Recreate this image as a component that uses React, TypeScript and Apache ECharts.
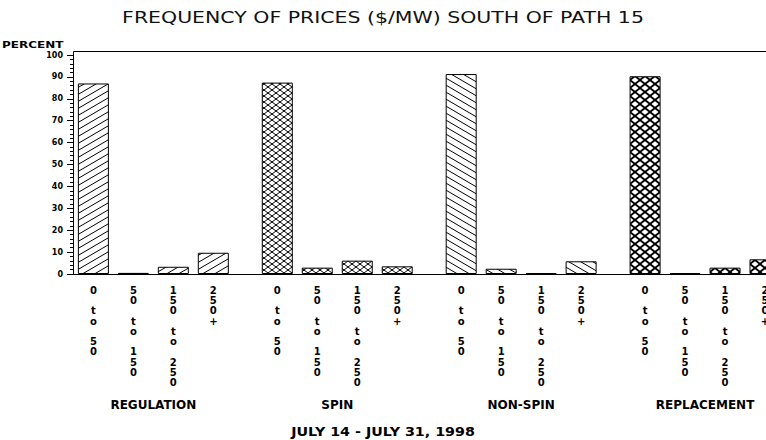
import React, { useEffect, useRef } from 'react';
import * as echarts from 'echarts';

const groups = ['REGULATION', 'SPIN', 'NON-SPIN', 'REPLACEMENT'];
const priceBins = ['0 to 50', '50 to 150', '150 to 250', '250+'];
const regulation = [87.0, 0.5, 3.3, 9.7];
const spin = [87.4, 2.9, 6.1, 3.5];
const nonSpin = [91.3, 2.4, 0.4, 5.8];
const replacement = [90.3, 0.4, 2.9, 6.7];
const yTickLabels = ['0', '10', '20', '30', '40', '50', '60', '70', '80', '90', '100'];
const titleText = 'FREQUENCY OF PRICES ($/MW) SOUTH OF PATH 15';
const subtitleText = 'JULY 14 - JULY 31, 1998';
const yAxisName = 'PERCENT';

const seriesValues = [regulation, spin, nonSpin, replacement];

const FONT = '"DejaVu Sans", sans-serif';
const GROUP_STEP = 4.6;
const xOf = (g: number, b: number) => g * GROUP_STEP + b + 0.51;
const X_MAX = xOf(3, 3) + 0.51;

function stackLabel(s: string): string {
  if (s.includes(' to ')) {
    const [a, b] = s.split(' to ');
    return [...a.split(''), '', 't', 'o', '', ...b.split('')].join('\n');
  }
  return s.split('').join('\n');
}

function makeTile(w: number, h: number, dirs: string[], lw: number): HTMLCanvasElement {
  const c = document.createElement('canvas');
  c.width = w;
  c.height = h;
  const ctx = c.getContext('2d')!;
  ctx.fillStyle = '#fff';
  ctx.fillRect(0, 0, w, h);
  ctx.strokeStyle = '#000';
  ctx.lineWidth = lw;
  for (const d of dirs) {
    for (let k = -2; k <= 2; k++) {
      ctx.beginPath();
      if (d === '/') {
        ctx.moveTo(-w, 2 * h + k * h);
        ctx.lineTo(2 * w, -h + k * h);
      } else {
        ctx.moveTo(-w, -h + k * h);
        ctx.lineTo(2 * w, 2 * h + k * h);
      }
      ctx.stroke();
    }
  }
  return c;
}

export default function App() {
  const ref = useRef<HTMLDivElement>(null);
  useEffect(() => {
    const chart = echarts.init(ref.current!, null, { renderer: 'svg' });
    const tiles = [
      { c: makeTile(12, 7, ['/'], 1), w: 12, h: 7 },
      { c: makeTile(8, 6, ['/', '\\'], 1), w: 8, h: 6 },
      { c: makeTile(12, 7, ['\\'], 1), w: 12, h: 7 },
      { c: makeTile(10, 8, ['/', '\\'], 1.8), w: 10, h: 8 },
    ];
    const patterns = tiles.map((t) => ({
      image: t.c,
      repeat: 'repeat',
      imageWidth: t.w,
      imageHeight: t.h,
    }));

    const binCenters: number[] = [];
    const binLabelMap: Record<string, string> = {};
    groups.forEach((_, g) =>
      priceBins.forEach((bin, b) => {
        const x = xOf(g, b);
        binCenters.push(x);
        binLabelMap[x.toFixed(3)] = stackLabel(bin);
      })
    );
    const groupCenters = groups.map((_, g) => xOf(g, 1.5));
    const nearest = (arr: number[], v: number) => {
      let best = 0;
      arr.forEach((a, i) => {
        if (Math.abs(a - v) < Math.abs(arr[best] - v)) best = i;
      });
      return best;
    };

    const option: any = {
      animation: false,
      backgroundColor: '#fff',
      grid: { left: 73, right: 800 - 785.4, top: 55, bottom: 166, containLabel: false },
      xAxis: [
        {
          type: 'value',
          min: 0,
          max: X_MAX,
          axisLine: { show: true, onZero: false, lineStyle: { color: '#000', width: 1 } },
          axisTick: { show: false },
          splitLine: { show: false },
          axisLabel: {
            customValues: binCenters,
            formatter: (v: number) => binLabelMap[binCenters[nearest(binCenters, v)].toFixed(3)],
            color: '#000',
            fontFamily: FONT,
            fontWeight: 'bold',
            fontSize: 10,
            lineHeight: 10.3,
            margin: 11,
            align: 'center',
          },
        },
        {
          type: 'value',
          min: 0,
          max: X_MAX,
          position: 'bottom',
          axisLine: { show: false },
          axisTick: { show: false },
          splitLine: { show: false },
          axisLabel: {
            customValues: groupCenters,
            formatter: (v: number) => groups[nearest(groupCenters, v)],
            color: '#000',
            fontFamily: FONT,
            fontWeight: 'bold',
            fontSize: 12,
            margin: 125,
          },
        },
      ],
      yAxis: {
        type: 'value',
        min: 0,
        max: 100,
        interval: 10,
        axisLine: { show: true, lineStyle: { color: '#000', width: 1 } },
        axisTick: { show: true, length: 6, lineStyle: { color: '#000' } },
        minorTick: { show: true, splitNumber: 5, length: 3, lineStyle: { color: '#000' } },
        splitLine: { show: false },
        axisLabel: {
          formatter: (v: number) => yTickLabels[Math.round(v / 10)] ?? '',
          color: '#000',
          fontFamily: FONT,
          fontWeight: 'bold',
          fontSize: 8,
          margin: 10,
        },
      },
      graphic: [
        {
          type: 'polyline',
          shape: { points: [[73.5, 56], [73.5, 51.5], [800, 51.5]] },
          style: { stroke: '#000', lineWidth: 1, fill: null },
          silent: true,
        },
        {
          type: 'text',
          x: 383,
          y: 17,
          scaleX: 1.28,
          style: {
            text: titleText,
            font: `normal 16px ${FONT}`,
            fill: '#111',
            textAlign: 'center',
            textVerticalAlign: 'middle',
          },
        },
        {
          type: 'text',
          x: 383,
          y: 432,
          scaleX: 1.19,
          style: {
            text: subtitleText,
            font: `bold 12px ${FONT}`,
            fill: '#000',
            textAlign: 'center',
            textVerticalAlign: 'middle',
          },
        },
        {
          type: 'text',
          x: 2,
          y: 45,
          scaleX: 1.5,
          style: {
            text: yAxisName,
            font: `bold 8px ${FONT}`,
            fill: '#000',
            textAlign: 'left',
            textVerticalAlign: 'middle',
          },
        },
      ],
      series: seriesValues.map((vals, g) => ({
        type: 'bar',
        name: groups[g],
        xAxisIndex: 0,
        yAxisIndex: 0,
        barWidth: 31,
        barGap: '-100%',
        data: vals.map((v, b) => [xOf(g, b), v]),
        itemStyle: { color: patterns[g], borderColor: '#000', borderWidth: 1 },
      })),
    };
    chart.setOption(option);
    return () => chart.dispose();
  }, []);
  return (
    <div
      style={{
        position: 'absolute',
        left: 0,
        top: 0,
        width: 766,
        height: 440,
        overflow: 'hidden',
        background: '#fff',
      }}
    >
      <div ref={ref} style={{ width: 800, height: 440 }} />
    </div>
  );
}
